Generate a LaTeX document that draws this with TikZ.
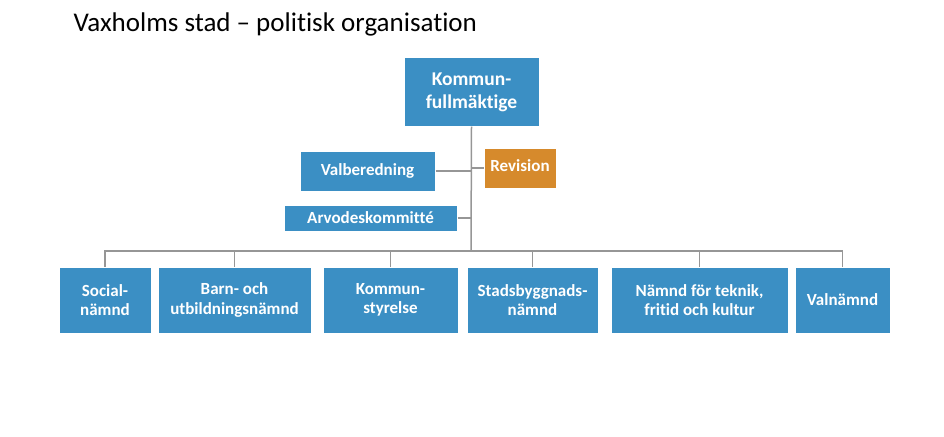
\documentclass[tikz,border=0pt]{standalone}
\usepackage{fontspec}
\setmainfont[RawFeature=-liga]{Carlito}
\definecolor{bx}{RGB}{59,143,196}
\definecolor{orng}{RGB}{214,138,44}
\definecolor{ln}{RGB}{150,150,150}
\begin{document}
\begin{tikzpicture}[x=1pt,y=-1pt,
  box/.style={fill=bx,draw=white,line width=1pt,text=white,font=\bfseries\fontsize{17}{19.5}\selectfont,align=center,inner sep=0pt},
  con/.style={draw=ln,line width=1.5pt}]
\useasboundingbox (0,0) rectangle (944,436);
\node[anchor=west,font=\fontsize{27}{30}\selectfont] (t) at (70,24) {Vaxholms stad – politisk organisation};
\newcommand{\bx}[6][bx]{\node[box,fill=#1,minimum width=#4-#3,minimum height=#6-#5] (#2) at ({(#3+#4)/2},{(#5+#6)/2})}
\node[box,minimum width=135,minimum height=68,font=\bfseries\fontsize{19.5}{23}\selectfont] (kf) at (471.5,92) {Kommun-\\fullmäktige};
\bx{vb}{300}{435}{151}{191} {Valberedning};
\node[box,fill=orng,minimum width=72,minimum height=40,anchor=north] (rev) at (520,148) {\raisebox{6pt}{Revision}};
\bx{ak}{284}{457}{205}{231} {Arvodeskommitté};
\bx{b1}{59}{151}{267}{333} {Social-\\nämnd};
\bx{b2}{158}{311}{267}{333} {Barn- och\\utbildningsnämnd};
\bx{b3}{323}{458}{267}{333} {Kommun-\\styrelse};
\bx{b4}{467}{598}{267}{333} {Stadsbyggnads-\\nämnd};
\bx{b5}{611}{788}{267}{333} {Nämnd för teknik,\\fritid och kultur};
\bx{b6}{795}{890}{267}{333} {Valnämnd};
\coordinate (bus) at (471,251);
\draw[con] (kf.south) -- (bus);
\draw[con] (b1.north) |- (bus) -| (b6.north);
\foreach \n in {b2,b3,b4,b5} \draw[con] (\n.north) -- (\n.north |- bus);
\draw[con] (vb.east) -- (vb.east -| bus);
\draw[con] (rev.west |- 0,168) -- (471,168);
\draw[con] (ak.east) -- (ak.east -| bus);
\end{tikzpicture}
\end{document}
